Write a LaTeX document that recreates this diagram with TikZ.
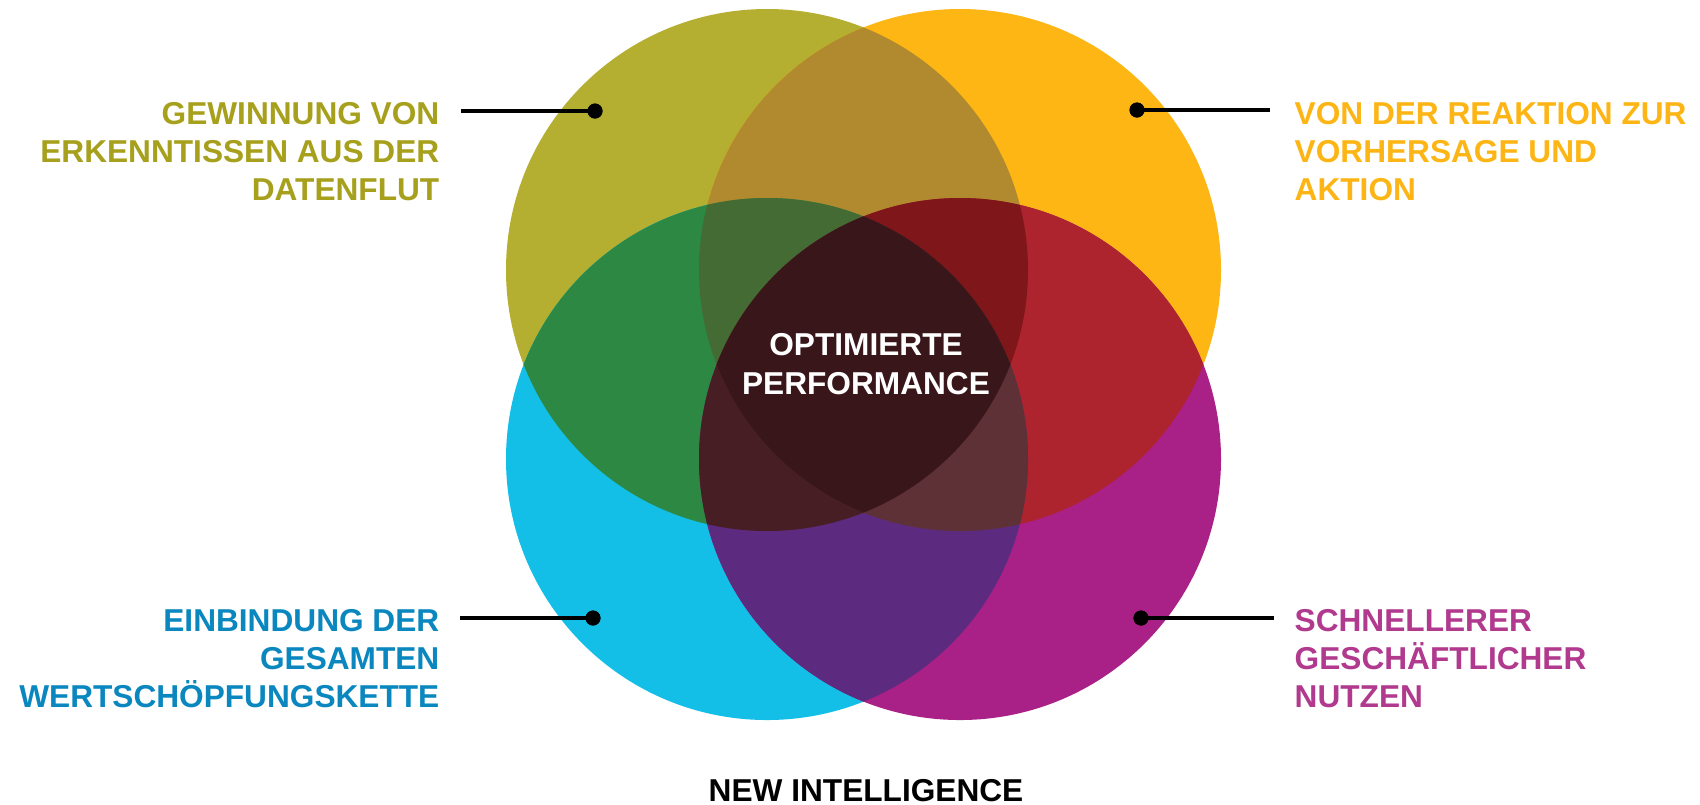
\documentclass[tikz,border=0pt]{standalone}
\usepackage{fontspec}
\setmainfont{Liberation Sans}
\definecolor{kOliv}{HTML}{B5AF31}
\definecolor{kOrange}{HTML}{FDB614}
\definecolor{kCyan}{HTML}{14BFE7}
\definecolor{kMagenta}{HTML}{A92086}
\definecolor{kOR}{HTML}{B1892E}
\definecolor{kOC}{HTML}{2D8843}
\definecolor{kRM}{HTML}{AE242E}
\definecolor{kCM}{HTML}{5C2B80}
\definecolor{kORC}{HTML}{446B34}
\definecolor{kORM}{HTML}{7E161A}
\definecolor{kOCM}{HTML}{461E23}
\definecolor{kRCM}{HTML}{5E3136}
\definecolor{kMitte}{HTML}{391619}
\definecolor{tOliv}{HTML}{A6A01C}
\definecolor{tOrange}{HTML}{FDB515}
\definecolor{tCyan}{HTML}{0A87BE}
\definecolor{tMagenta}{HTML}{B13A8E}
\begin{document}
\begin{tikzpicture}[
    schrift/.style={font=\fontsize{9}{10.8}\selectfont\bfseries, inner sep=0pt},
    punkt/.style={circle, fill=black, inner sep=0pt, minimum size=0.15cm},
    linie/.style={black, line width=0.9pt}
  ]
  \useasboundingbox (0,0) rectangle (17,-8.04);
  % Definitionen
  \def\rad{2.61}
  \coordinate (mO) at (7.67,-2.70);
  \coordinate (mR) at (9.60,-2.70);
  \coordinate (mC) at (7.67,-4.59);
  \coordinate (mM) at (9.60,-4.59);
  % Grundkreise
  \foreach \m/\col in {mO/kOliv, mR/kOrange, mC/kCyan, mM/kMagenta} {
    \fill[\col] (\m) circle (\rad);
  }
  % Schnittflaechen (je zwei Kreise)
  \foreach \a/\b/\col in {mO/mR/kOR, mO/mC/kOC, mR/mM/kRM, mC/mM/kCM} {
    \begin{scope}
      \clip (\a) circle (\rad);
      \fill[\col] (\b) circle (\rad);
    \end{scope}
  }
  % Schnittflaechen (je drei Kreise)
  \foreach \a/\b/\c/\col in {mO/mR/mC/kORC, mO/mR/mM/kORM, mO/mC/mM/kOCM, mR/mC/mM/kRCM} {
    \begin{scope}
      \clip (\a) circle (\rad);
      \clip (\b) circle (\rad);
      \fill[\col] (\c) circle (\rad);
    \end{scope}
  }
  % Mitte (alle vier)
  \begin{scope}
    \clip (mO) circle (\rad);
    \clip (mR) circle (\rad);
    \clip (mC) circle (\rad);
    \fill[kMitte] (mM) circle (\rad);
  \end{scope}
  \node[schrift, white, align=center, anchor=north,
    font=\fontsize{9}{11.1}\selectfont\bfseries] (mitte) at (8.66,-3.33)
    {OPTIMIERTE\\PERFORMANCE};
  % Beschriftungen
  \node[schrift, tOliv, align=right, anchor=north east] (labO) at (4.40,-1.02)
    {GEWINNUNG VON\\ERKENNTISSEN AUS DER\\DATENFLUT};
  \node[schrift, tOrange, align=left, anchor=north west] (labR) at (12.94,-1.02)
    {VON DER REAKTION ZUR\\VORHERSAGE UND\\AKTION};
  \node[schrift, tCyan, align=right, anchor=north east] (labC) at (4.40,-6.09)
    {EINBINDUNG DER\\GESAMTEN\\WERTSCHÖPFUNGSKETTE};
  \node[schrift, tMagenta, align=left, anchor=north west] (labM) at (12.94,-6.09)
    {SCHNELLERER\\GESCHÄFTLICHER\\NUTZEN};
  % Punkte und Linien
  \node[punkt] (dotO) at (5.95,-1.11) {};
  \node[punkt] (dotR) at (11.37,-1.10) {};
  \node[punkt] (dotC) at (5.93,-6.18) {};
  \node[punkt] (dotM) at (11.41,-6.18) {};
  \coordinate (endO) at (4.61,-1.11);
  \coordinate (endR) at (12.70,-1.10);
  \coordinate (endC) at (4.60,-6.18);
  \coordinate (endM) at (12.74,-6.18);
  \foreach \p in {O,R,C,M} {
    \draw[linie] (end\p) -- (dot\p.center);
    \node[punkt] at (dot\p) {};
  }
  % Titel
  \node[schrift, black, anchor=north] (titel) at (8.66,-7.79) {NEW INTELLIGENCE};
\end{tikzpicture}
\end{document}
